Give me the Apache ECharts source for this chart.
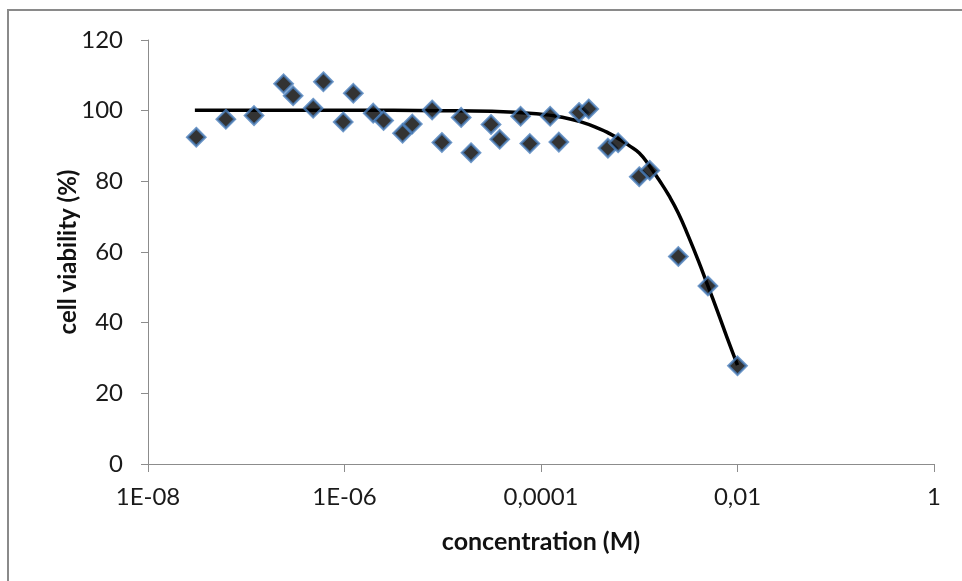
<!DOCTYPE html>
<html>
<head>
<meta charset="utf-8">
<script src="https://cdn.jsdelivr.net/npm/echarts@6/dist/echarts.min.js"></script>
<style>
html,body{margin:0;padding:0;background:#fff;}
#chart{width:962px;height:581px;}
</style>
</head>
<body>
<div id="chart"></div>
<script>
// Measured points (concentration in M, viability in %)
var concentration = [3.1e-8, 6.2e-8, 1.2e-7, 2.4e-7, 3.0e-7, 4.8e-7, 6.1e-7, 9.7e-7, 1.23e-6, 1.96e-6,
  2.5e-6, 3.9e-6, 4.9e-6, 7.8e-6, 9.8e-6, 1.54e-5, 1.94e-5, 3.1e-5, 3.8e-5, 6.2e-5,
  7.7e-5, 1.24e-4, 1.52e-4, 2.44e-4, 3.06e-4, 4.8e-4, 6.1e-4, 1.0e-3, 1.28e-3, 2.5e-3,
  5.0e-3, 1.0e-2];
var viability = [92.5, 97.6, 98.6, 107.6, 104.2, 100.7, 108.2, 96.8, 104.9, 99.3,
  97.2, 93.6, 96.2, 100.2, 91.0, 98.1, 88.1, 96.1, 91.9, 98.4,
  90.7, 98.4, 91.1, 99.5, 100.5, 89.4, 90.9, 81.3, 83.1, 58.7,
  50.4, 27.8];

// Fitted curve
var curveX = [3e-8, 1e-7, 1e-6, 1e-5, 3.16e-5, 1e-4, 1.58e-4, 2.5e-4, 4e-4, 5e-4, 6.3e-4,
  7.9e-4, 1e-3, 1.26e-3, 1.58e-3, 2e-3, 2.5e-3, 3.16e-3, 4e-3, 5e-3, 6.3e-3, 7.9e-3, 1e-2];
var curveY = [100.1, 100.1, 100.1, 100.0, 99.8, 99.0, 98.2, 96.9, 94.8, 93.5, 91.9,
  90.1, 88.0, 84.5, 80.5, 76.0, 71.0, 64.5, 57.5, 50.4, 43.0, 35.5, 28.0];

var xTickExps = [-8, -6, -4, -2, 0];
var xTickLabels = ["1E-08", "1E-06", "0,0001", "0,01", "1"];
var xTickValues = xTickExps.map(function (e) { return Math.pow(10, e); });

var axisColor = '#8c8c8c';
var font = 'Lato, "Open Sans", sans-serif';

var chart = echarts.init(document.getElementById('chart'));
chart.setOption({
  backgroundColor: '#ffffff',
  animation: false,
  graphic: [{
    type: 'rect',
    shape: {x: 8, y: 10, width: 1100, height: 1000},
    style: {fill: 'none', stroke: '#8a8a8a', lineWidth: 2},
    silent: true
  }],
  grid: {left: 148, right: 28, top: 40, bottom: 117, containLabel: false},
  xAxis: {
    type: 'log',
    logBase: 10,
    min: 1e-8,
    max: 1,
    splitNumber: 4,
    axisLine: {show: true, lineStyle: {color: axisColor, width: 1}},
    axisTick: {show: true, length: 8, lineStyle: {color: axisColor}, customValues: xTickValues},
    splitLine: {show: false},
    minorTick: {show: false},
    axisLabel: {
      margin: 21,
      customValues: xTickValues,
      fontFamily: font, fontSize: 24, color: '#1a1a1a',
      formatter: function (v) {
        var e = Math.round(Math.log(v) / Math.LN10);
        var i = xTickExps.indexOf(e);
        return i >= 0 ? xTickLabels[i] : '';
      }
    },
    name: 'concentration (M)',
    nameLocation: 'middle',
    nameGap: 65,
    nameMoveOverlap: false,
    nameTextStyle: {fontFamily: font, fontSize: 25, fontWeight: 'bold', color: '#111'}
  },
  yAxis: {
    type: 'value',
    min: 0, max: 120, interval: 20,
    axisLine: {show: true, lineStyle: {color: axisColor, width: 1}},
    axisTick: {show: true, length: 7, lineStyle: {color: axisColor}},
    splitLine: {show: false},
    axisLabel: {margin: 25, fontFamily: font, fontSize: 24, color: '#1a1a1a'},
    name: 'cell viability (%)',
    nameLocation: 'middle',
    nameGap: 68,
    nameRotate: 90,
    nameMoveOverlap: false,
    nameTextStyle: {fontFamily: font, fontSize: 24, fontWeight: 'bold', color: '#111'}
  },
  series: [{
    type: 'line',
    data: curveX.map(function (x, i) { return [x, curveY[i]]; }),
    smooth: true,
    showSymbol: false,
    symbol: 'none',
    lineStyle: {color: '#000', width: 3.5},
    z: 2
  }, {
    type: 'scatter',
    data: concentration.map(function (x, i) { return [x, viability[i]]; }),
    symbol: 'diamond',
    symbolSize: 18,
    itemStyle: {color: '#000', borderColor: '#4a7ebb', borderWidth: 2.5},
    z: 3
  }]
});
</script>
</body>
</html>
